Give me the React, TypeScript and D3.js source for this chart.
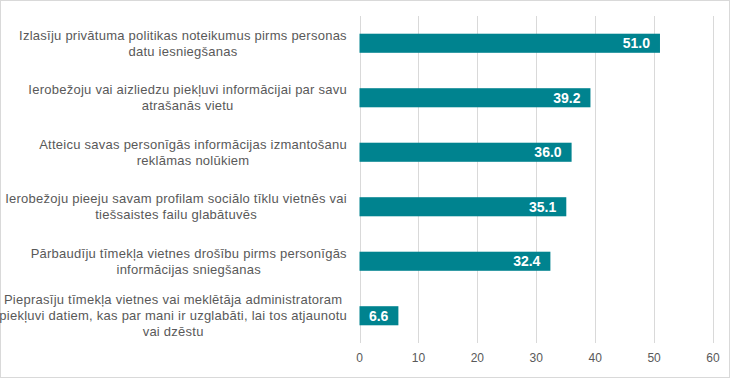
import React, { useEffect, useRef } from "react";
import * as d3 from "d3";

const categories: string[][] = [
  ["Izlasīju privātuma politikas noteikumus pirms personas", "datu iesniegšanas"],
  ["Ierobežoju vai aizliedzu piekļuvi informācijai par savu", "atrašanās vietu"],
  ["Atteicu savas personīgās informācijas izmantošanu", "reklāmas nolūkiem"],
  ["Ierobežoju pieeju savam profilam sociālo tīklu vietnēs vai", "tiešsaistes failu glabātuvēs"],
  ["Pārbaudīju tīmekļa vietnes drošību pirms personīgās", "informācijas sniegšanas"],
  ["Pieprasīju tīmekļa vietnes vai meklētāja administratoram", "piekļuvi datiem, kas par mani ir uzglabāti, lai tos atjaunotu", "vai dzēstu"],
];
const values: number[] = [51.0, 39.2, 36.0, 35.1, 32.4, 6.6];
const ticks: number[] = [0, 10, 20, 30, 40, 50, 60];

const W = 730;
const H = 378;
const FONT = "'Liberation Sans', Arial, sans-serif";

export default function App() {
  const ref = useRef<SVGSVGElement>(null);
  useEffect(() => {
    const svg = d3.select(ref.current);
    svg.selectAll("*").remove();

    svg.append("rect").attr("x", 0.5).attr("y", 0.5).attr("width", W - 1).attr("height", H - 1)
      .attr("fill", "#fff").attr("stroke", "#d9d9d9");

    const x = d3.scaleLinear().domain([0, 60]).range([359.5, 713]);
    const y = d3.scaleBand<number>().domain(d3.range(values.length)).range([16, 343]).paddingInner(0.65).paddingOuter(0.325);

    const g = svg.append("g");
    g.selectAll("line.grid").data(ticks).enter().append("line")
      .attr("x1", (d) => Math.round(x(d)) + 0.5).attr("x2", (d) => Math.round(x(d)) + 0.5)
      .attr("y1", 16).attr("y2", 343).attr("stroke", "#d9d9d9").attr("stroke-width", 1);

    g.selectAll("text.tick").data(ticks).enter().append("text")
      .attr("x", (d) => x(d)).attr("y", 362).attr("text-anchor", "middle")
      .attr("font-family", FONT).attr("font-size", 12).attr("fill", "#595959")
      .text((d) => String(d));

    g.selectAll("rect.bar").data(values).enter().append("rect")
      .attr("x", x(0)).attr("y", (_, i) => y(i)!).attr("width", (d) => x(d) - x(0))
      .attr("height", y.bandwidth()).attr("fill", "#00838f");

    g.selectAll("text.val").data(values).enter().append("text")
      .attr("x", (d) => x(d) - 10).attr("y", (_, i) => y(i)! + y.bandwidth() / 2)
      .attr("dy", "0.36em").attr("text-anchor", "end")
      .attr("font-family", FONT).attr("font-size", 14).attr("font-weight", "bold").attr("fill", "#fff")
      .text((d) => d.toFixed(1));

    const lineH = 16;
    categories.forEach((lines, i) => {
      const cy = y(i)! + y.bandwidth() / 2;
      const t = g.append("text").attr("font-family", FONT).attr("font-size", 13)
        .attr("letter-spacing", 0.25).attr("fill", "#595959")
        .attr("text-anchor", "middle");
      const n = lines.length;
      lines.forEach((ln, k) => {
        t.append("tspan").attr("x", 0).attr("y", cy + (k - (n - 1) / 2) * lineH).attr("dy", "0.35em").text(ln);
      });
      const bb = (t.node() as SVGTextElement).getBBox();
      const cx = 347 - bb.width / 2;
      t.selectAll("tspan").attr("x", cx);
    });
  }, []);
  return (
    <svg ref={ref} width={W} height={H} style={{ position: "absolute", left: 0, top: 0 }} />
  );
}
